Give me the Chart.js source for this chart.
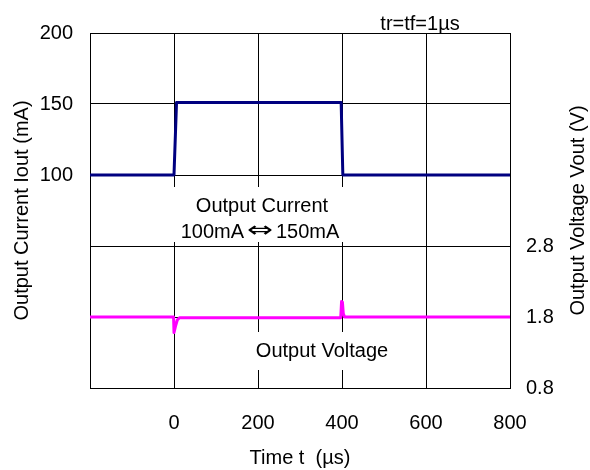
<!DOCTYPE html>
<html><head><meta charset="utf-8">
<script src="https://cdn.jsdelivr.net/npm/chart.js@4.4.1/dist/chart.umd.min.js"></script>
<style>html,body{margin:0;padding:0;background:#fff}#wrap{width:590px;height:470px}</style>
</head><body><div id="wrap"><canvas id="c" width="590" height="470"></canvas></div>
<script>
// ---- data ----
const currentTime   = [-200, 0, 6, 398, 402, 800];
const currentValues = [100, 100, 151, 151, 100, 100];
const voltageTime   = [-200, -1, 0, 2, 4, 8, 13, 397, 399, 401, 403, 406, 800];
const voltageValues = [1.80, 1.80, 1.58, 1.58, 1.68, 1.76, 1.79, 1.79, 2.02, 2.01, 1.85, 1.80, 1.80];
const xTickLabels = ['0', '200', '400', '600', '800'];
const currentTickLabels = ['100', '150', '200'];
const voltageTickLabels = ['0.8', '1.8', '2.8'];
const currentGridValues = [-50, 0, 50, 100, 150, 200];
const annotationTexts = ['Output Current', '100mA', '\u21D4', '150mA', 'Output Voltage', 'tr=tf=1\u00B5s'];
const rightTitle = 'Output Voltage Vout (V)';

const FAMILY = '"Liberation Sans", Arial, "DejaVu Sans", sans-serif';
const FS = 20;

const toPoints = (xs, ys) => xs.map((x, i) => ({x: x, y: ys[i]}));

const overlay = {
  id: 'overlay',
  beforeDatasetsDraw(chart) {
    const a = chart.chartArea, ctx = chart.ctx;
    ctx.save();
    ctx.fillStyle = '#fff';
    ctx.fillRect(a.left + 78, a.top + 154, 182, 55);
    ctx.fillRect(a.left + 155, a.top + 299, 155, 38);
    ctx.restore();
  },
  afterDraw(chart) {
    const a = chart.chartArea, ctx = chart.ctx;
    ctx.save();
    ctx.fillStyle = '#000';
    ctx.font = FS + 'px ' + FAMILY;
    ctx.textAlign = 'center';
    ctx.textBaseline = 'alphabetic';
    ctx.fillText(annotationTexts[0], a.left + 172, a.top + 179);
    // "100mA ⇔ 150mA" in pieces so the double arrow can be drawn larger
    const w1 = ctx.measureText(annotationTexts[1]).width;
    const w3 = ctx.measureText(annotationTexts[3]).width;
    const arrowW = 32;
    const total = w1 + arrowW + w3;
    let x0 = a.left + 170 - total / 2;
    ctx.textAlign = 'left';
    ctx.fillText(annotationTexts[1], x0, a.top + 205);
    ctx.fillText(annotationTexts[3], x0 + w1 + arrowW, a.top + 205);
    ctx.save();
    ctx.font = '22px "DejaVu Sans", sans-serif';
    const aw = ctx.measureText(annotationTexts[2]).width;
    ctx.translate(x0 + w1 + arrowW / 2, a.top + 204);
    ctx.scale(26 / aw, 1);
    ctx.textAlign = 'center';
    ctx.fillText(annotationTexts[2], 0, 0);
    ctx.restore();
    ctx.textAlign = 'center';
    ctx.fillText(annotationTexts[4], a.left + 232, a.top + 324);
    ctx.fillText(annotationTexts[5], a.left + 330, a.top - 3);
    // right axis title, reading bottom-to-top
    ctx.save();
    ctx.translate(578, (a.top + a.bottom) / 2);
    ctx.rotate(-Math.PI / 2);
    ctx.textBaseline = 'middle';
    ctx.fillText(rightTitle, 0, 0);
    ctx.restore();
    ctx.restore();
  }
};

new Chart(document.getElementById('c'), {
  type: 'line',
  data: {
    datasets: [
      {
        label: 'Output Current', data: toPoints(currentTime, currentValues), yAxisID: 'y',
        borderColor: '#000080', borderWidth: 3, pointRadius: 0, tension: 0, fill: false,
        borderJoinStyle: 'round'
      },
      {
        label: 'Output Voltage', data: toPoints(voltageTime, voltageValues), yAxisID: 'y1',
        borderColor: '#FF00FF', borderWidth: 3, pointRadius: 0, tension: 0, fill: false,
        borderJoinStyle: 'round'
      }
    ]
  },
  options: {
    responsive: false,
    animation: false,
    devicePixelRatio: 1,
    layout: {padding: {top: 33, left: 0, right: 0, bottom: 0}},
    plugins: {legend: {display: false}, tooltip: {enabled: false}},
    scales: {
      x: {
        type: 'linear', min: -200, max: 800,
        afterFit: s => { s.height = 82; },
        afterBuildTicks: s => { s.ticks = [-200, 0, 200, 400, 600, 800].map(v => ({value: v})); },
        grid: {color: '#000', lineWidth: 1, drawTicks: false},
        border: {color: '#000', width: 1},
        ticks: {
          padding: 23, color: '#000', font: {family: FAMILY, size: FS},
          maxRotation: 0, autoSkip: false,
          callback: (v) => { const i = xTickLabels.indexOf(String(v)); return i >= 0 ? xTickLabels[i] : ''; }
        },
        title: {display: true, text: 'Time t  (\u00B5s)', color: '#000', font: {family: FAMILY, size: FS}, padding: {top: 0, bottom: 0}}
      },
      y: {
        type: 'linear', position: 'left', min: -50, max: 200,
        afterFit: s => { s.width = 90; },
        afterBuildTicks: s => { s.ticks = currentGridValues.map(v => ({value: v})); },
        grid: {color: '#000', lineWidth: 1, drawTicks: false},
        border: {color: '#000', width: 1},
        ticks: {
          padding: 17, color: '#000', font: {family: FAMILY, size: FS},
          callback: (v) => { const i = currentTickLabels.indexOf(String(v)); return i >= 0 ? currentTickLabels[i] : ''; }
        },
        title: {display: true, text: 'Output Current Iout (mA)', color: '#000', font: {family: FAMILY, size: FS}, padding: {top: 10, bottom: 0}}
      },
      y1: {
        type: 'linear', position: 'right', min: 0.8, max: 5.8,
        afterFit: s => { s.width = 80; },
        afterBuildTicks: s => { s.ticks = voltageTickLabels.map(t => ({value: parseFloat(t)})); },
        grid: {display: false, drawOnChartArea: false, drawTicks: false},
        border: {display: true, color: '#000', width: 1},
        ticks: {
          padding: 16, color: '#000', font: {family: FAMILY, size: FS},
          callback: (v) => Number(v).toFixed(1)
        },
        title: {display: false}
      }
    }
  },
  plugins: [overlay]
});
</script>
</body></html>
